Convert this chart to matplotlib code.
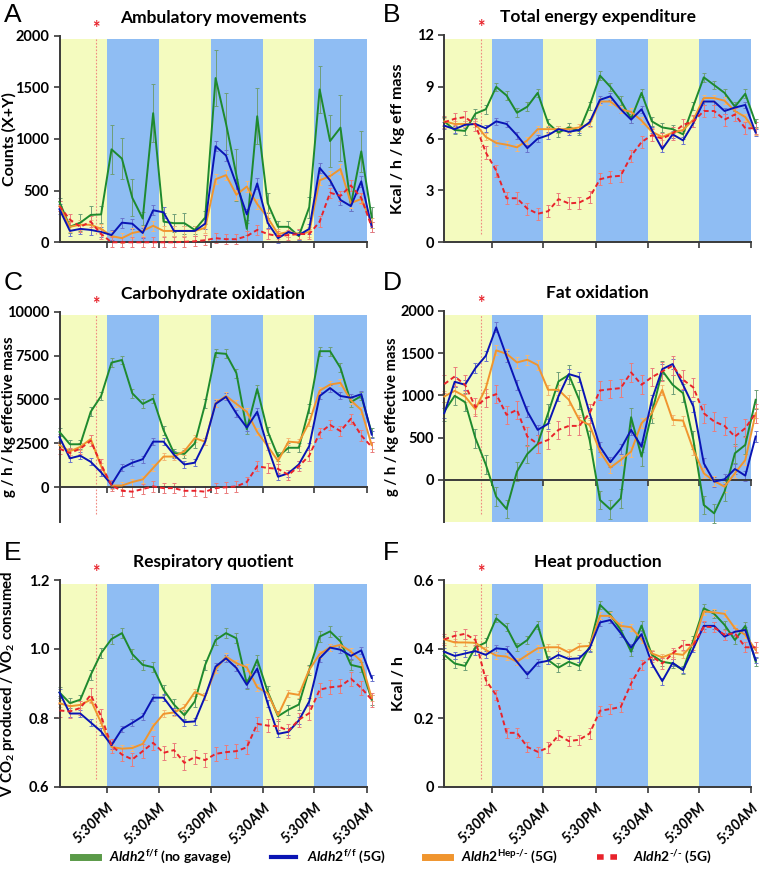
import numpy as np
import matplotlib
matplotlib.use("Agg")
import matplotlib.pyplot as plt
from matplotlib.lines import Line2D

plt.rcParams['font.family'] = ['Lato', 'DejaVu Sans']
plt.rcParams['font.weight'] = 'bold'
plt.rcParams['mathtext.fontset'] = 'custom'
plt.rcParams['mathtext.rm'] = 'Lato:bold'
plt.rcParams['mathtext.it'] = 'Lato:bold:italic'
plt.rcParams['mathtext.bf'] = 'Lato:bold'

# ---------------- data ----------------
time_idx = list(range(31))
tick_pos = [4.55, 9.52, 14.58, 19.6, 24.5, 29.55]
tick_labels = ['5:30PM', '5:30AM', '5:30PM', '5:30AM', '5:30PM', '5:30AM']
band_edges = [0, 4.55, 9.52, 14.58, 19.6, 24.5, 29.55]
gavage_time = 3.5

series_names = [r'$\mathit{Aldh2}^{\mathrm{f/f}}$ (no gavage)',
                r'$\mathit{Aldh2}^{\mathrm{f/f}}$ (5G)',
                r'$\mathit{Aldh2}^{\mathrm{Hep\text{-}/\text{-}}}$ (5G)',
                r'$\mathit{Aldh2}^{\text{-}/\text{-}}$ (5G)']

# A: ambulatory movements
amb_green = [390, 150, 190, 265, 270, 900, 810, 430, 230, 1250, 200, 185, 185, 120, 240,
             1590, 1150, 650, 130, 1220, 380, 150, 150, 60, 340, 1480, 980, 1110, 360, 880, 240]
amb_blue = [320, 110, 130, 120, 100, 70, 190, 180, 90, 310, 290, 110, 110, 110, 180,
            930, 840, 560, 270, 570, 190, 40, 100, 70, 130, 720, 600, 410, 350, 590, 150]
amb_orange = [350, 150, 170, 170, 130, 60, 40, 90, 110, 160, 110, 110, 110, 110, 140,
              610, 650, 460, 540, 370, 240, 80, 100, 80, 100, 600, 640, 710, 380, 420, 190]
amb_red = [350, 220, 150, 200, 80, 0, 0, 0, 0, 0, 0, 0, 5, 10, 20,
           40, 30, 30, 60, 120, 80, 60, 70, 80, 80, 200, 480, 450, 550, 430, 150]
amb_green_err = [40, 60, 80, 90, 80, 240, 200, 180, 60, 280, 80, 90, 100, 40, 60,
                 270, 300, 250, 60, 270, 100, 60, 60, 40, 100, 230, 250, 320, 60, 200, 100]

# B: total energy expenditure
tee_green = [7.0, 6.5, 6.45, 7.45, 7.7, 9.0, 8.5, 7.5, 7.85, 8.65, 6.9, 6.35, 6.65, 6.45, 7.9,
             9.65, 9.0, 8.2, 7.15, 8.65, 7.0, 6.65, 6.55, 6.25, 7.9, 9.55, 9.1, 8.65, 7.85, 8.6, 6.9]
tee_blue = [6.75, 6.55, 6.8, 6.85, 6.6, 7.0, 6.85, 6.2, 5.45, 6.0, 6.2, 6.55, 6.4, 6.5, 6.95,
            8.25, 8.45, 7.7, 7.1, 7.7, 6.5, 5.4, 6.25, 5.9, 6.9, 8.15, 8.15, 7.6, 7.8, 7.95, 6.35]
tee_orange = [7.0, 6.85, 6.85, 6.85, 6.1, 5.75, 5.65, 5.5, 5.9, 6.55, 6.55, 6.55, 6.55, 6.65, 6.85,
              8.15, 8.15, 7.7, 7.55, 7.05, 6.4, 6.1, 6.35, 6.5, 7.1, 8.35, 8.35, 8.2, 7.6, 7.25, 6.4]
tee_red = [6.95, 7.15, 7.25, 6.8, 5.2, 4.15, 2.55, 2.55, 1.95, 1.65, 1.8, 2.5, 2.25, 2.3, 2.6,
           3.65, 3.8, 3.85, 5.0, 5.8, 6.2, 6.0, 6.3, 6.8, 7.0, 7.6, 7.6, 7.1, 7.4, 6.6, 6.6]

# C: carbohydrate oxidation
cho_green = [3150, 2450, 2450, 4300, 5200, 7100, 7250, 5350, 4750, 5050, 3250, 1950, 1900, 2500, 4750,
             7650, 7600, 6500, 3300, 5600, 3200, 1750, 2250, 2250, 4500, 7750, 7750, 6800, 4850, 5200, 3100]
cho_blue = [2850, 1650, 1800, 1450, 850, 150, 1100, 1400, 1600, 2600, 2600, 1850, 1300, 1400, 2600,
            4750, 5150, 4200, 3400, 4300, 2300, 600, 800, 1300, 2350, 5200, 5650, 5200, 5100, 5300, 3000]
cho_orange = [2400, 2050, 2300, 2750, 1200, 100, 100, 300, 450, 1100, 1750, 1750, 2050, 2800, 2600,
              4800, 5200, 4750, 4300, 3150, 2350, 1500, 2600, 2550, 3700, 5500, 5850, 5950, 4950, 4400, 2400]
cho_red = [2200, 1950, 2200, 2650, 1300, 100, -200, -250, -100, 50, -50, -50, -200, -200, -250,
           -50, 0, 50, 300, 1200, 1100, 1050, 700, 1200, 1800, 3100, 3550, 3200, 3900, 2950, 2300]

# D: fat oxidation
fat_green = [810, 996, 921, 494, 182, -198, -344, 99, 308, 427, 790, 1166, 1245, 949, 474,
             -237, -348, -217, 743, 277, 790, 1293, 1127, 1028, 474, -296, -395, -138, 316, 415, 949]
fat_blue = [790, 1162, 1127, 1324, 1470, 1806, 1462, 1127, 810, 593, 664, 990, 1253, 1217, 790,
            395, 210, 368, 593, 395, 949, 1312, 1372, 1127, 870, 198, -20, 8, 130, 51, 514]
fat_orange = [988, 1055, 988, 838, 1087, 1534, 1494, 1391, 1423, 1360, 1067, 1067, 949, 711, 650,
              336, 146, 237, 336, 672, 790, 1067, 711, 703, 356, 79, -12, -80, 79, 237, 790]
fat_red = [1135, 1225, 1127, 862, 968, 1016, 771, 830, 514, 427, 474, 593, 640, 640, 790,
           1059, 1075, 1087, 1273, 1127, 1217, 1285, 1352, 1186, 1095, 790, 692, 640, 514, 613, 790]

# E: respiratory quotient
rq_green = [0.874, 0.843, 0.853, 0.925, 0.988, 1.029, 1.046, 0.985, 0.954, 0.947, 0.882, 0.839, 0.808, 0.848, 0.954,
            1.026, 1.046, 1.031, 0.899, 0.969, 0.877, 0.805, 0.824, 0.839, 0.940, 1.036, 1.051, 1.022, 0.954, 0.947, 0.853]
rq_blue = [0.874, 0.813, 0.813, 0.787, 0.761, 0.721, 0.768, 0.786, 0.805, 0.859, 0.859, 0.819, 0.788, 0.790, 0.863,
           0.949, 0.973, 0.945, 0.896, 0.943, 0.843, 0.754, 0.760, 0.793, 0.848, 0.973, 1.004, 0.998, 0.980, 0.996, 0.916]
rq_orange = [0.843, 0.834, 0.838, 0.853, 0.786, 0.716, 0.711, 0.713, 0.725, 0.776, 0.812, 0.816, 0.831, 0.875, 0.863,
             0.940, 0.978, 0.959, 0.947, 0.889, 0.872, 0.808, 0.872, 0.867, 0.940, 0.985, 1.005, 1.012, 0.993, 0.964, 0.858]
rq_red = [0.822, 0.819, 0.829, 0.867, 0.805, 0.720, 0.694, 0.680, 0.704, 0.728, 0.699, 0.707, 0.670, 0.687, 0.678,
          0.696, 0.701, 0.704, 0.715, 0.783, 0.778, 0.776, 0.763, 0.795, 0.814, 0.882, 0.889, 0.892, 0.914, 0.887, 0.853]

# F: heat production
heat_green = [0.383, 0.358, 0.351, 0.405, 0.419, 0.489, 0.463, 0.405, 0.426, 0.470, 0.368, 0.346, 0.363, 0.351, 0.407,
              0.528, 0.499, 0.455, 0.392, 0.468, 0.383, 0.363, 0.358, 0.339, 0.426, 0.518, 0.502, 0.470, 0.426, 0.467, 0.363]
heat_blue = [0.392, 0.380, 0.387, 0.394, 0.383, 0.402, 0.399, 0.363, 0.326, 0.360, 0.366, 0.383, 0.371, 0.373, 0.402,
             0.477, 0.484, 0.446, 0.404, 0.443, 0.358, 0.307, 0.360, 0.339, 0.402, 0.467, 0.467, 0.436, 0.450, 0.455, 0.368]
heat_orange = [0.428, 0.419, 0.419, 0.418, 0.397, 0.381, 0.378, 0.363, 0.383, 0.402, 0.405, 0.405, 0.390, 0.407, 0.409,
               0.496, 0.496, 0.467, 0.463, 0.428, 0.387, 0.376, 0.387, 0.383, 0.416, 0.509, 0.506, 0.502, 0.460, 0.441, 0.397]
heat_red = [0.428, 0.438, 0.444, 0.426, 0.310, 0.266, 0.157, 0.157, 0.116, 0.102, 0.114, 0.150, 0.133, 0.137, 0.155,
            0.221, 0.226, 0.232, 0.300, 0.353, 0.378, 0.358, 0.387, 0.412, 0.412, 0.465, 0.463, 0.441, 0.446, 0.405, 0.405]

# typical SEM per series (green, blue, orange, red)
sem_A = [amb_green_err, 50, 50, 50]
sem_B = [0.25, 0.2, 0.2, 0.35]
sem_C = [250, 200, 200, 300]
sem_D = [110, 60, 60, 110]
sem_E = [0.015, 0.01, 0.01, 0.02]
sem_F = [0.012, 0.01, 0.01, 0.015]

# ---------------- style ----------------
line_colors = ['#1e8a2e', '#0a14b4', '#f0952e', '#e8232b']
err_colors = ['#6f9f78', '#6a74cc', '#f2b877', '#ea7c7c']
band_colors = ['#f4fbbf', '#8fbdf3']
spine_col = '#3a3a3a'

W, H = 762, 875
fig = plt.figure(figsize=(W / 100, H / 100), dpi=100)

def rect(l, r, t, b):
    return [l / W, 1 - b / H, (r - l) / W, (b - t) / H]

panels = [
    dict(letter='A', title='Ambulatory movements', ylabel='Counts (X+Y)',
         ylim=(0, 2000), yticks=[0, 500, 1000, 1500, 2000], shade_bottom=0, zero_spine=False,
         data=[amb_green, amb_blue, amb_orange, amb_red], sem=sem_A,
         px=(59.5, 367, 35.7, 242.3), xlabels=False, letter_xy=(4, 3), ylab_x=17, ylab_fs=11.5),
    dict(letter='B', title='Total energy expenditure', ylabel='Kcal / h / kg eff mass',
         ylim=(0, 12), yticks=[0, 3, 6, 9, 12], shade_bottom=0, zero_spine=False,
         data=[tee_green, tee_blue, tee_orange, tee_red], sem=sem_B,
         px=(444.3, 751, 35, 242.3), xlabels=False, letter_xy=(383, 3), ylab_x=405, ylab_fs=11.5),
    dict(letter='C', title='Carbohydrate oxidation', ylabel='g / h / kg effective mass',
         ylim=(-2000, 10000), yticks=[0, 2500, 5000, 7500, 10000], shade_bottom=0, zero_spine=True,
         data=[cho_green, cho_blue, cho_orange, cho_red], sem=sem_C,
         px=(59.5, 367, 311.7, 522.4), xlabels=False, letter_xy=(4, 271), ylab_x=16, ylab_fs=10.8),
    dict(letter='D', title='Fat oxidation', ylabel='g / h / kg effective mass',
         ylim=(-500, 2000), yticks=[0, 500, 1000, 1500, 2000], shade_bottom=-500, zero_spine=True,
         data=[fat_green, fat_blue, fat_orange, fat_red], sem=sem_D,
         px=(444.3, 751, 311, 522.2), xlabels=False, letter_xy=(383, 271), ylab_x=399, ylab_fs=10.6),
    dict(letter='E', title='Respiratory quotient', ylabel=r'V CO$_2$ produced / VO$_2$ consumed',
         ylim=(0.6, 1.2), yticks=[0.6, 0.8, 1.0, 1.2], shade_bottom=0.6, zero_spine=False,
         data=[rq_green, rq_blue, rq_orange, rq_red], sem=sem_E,
         px=(59.5, 367, 580, 787), xlabels=True, fmt='{:.1f}', letter_xy=(4, 541), ylab_x=17,
         ylab_fs=10.8),
    dict(letter='F', title='Heat production', ylabel='Kcal / h',
         ylim=(0, 0.6), yticks=[0, 0.2, 0.4, 0.6], shade_bottom=0, zero_spine=False,
         data=[heat_green, heat_blue, heat_orange, heat_red], sem=sem_F,
         px=(444.3, 751, 580, 787), xlabels=True, fmt='{:g}', letter_xy=(383, 541), ylab_x=406,
         ylab_fs=11.5),
]

for p in panels:
    l, r, t, b = p['px']
    ax = fig.add_axes(rect(l, r, t, b))
    y0, y1 = p['ylim']
    ax.set_xlim(0, tick_pos[-1])
    ax.set_ylim(y0, y1)
    shade_top = y1 - 0.017 * (y1 - y0)
    for k in range(len(band_edges) - 1):
        ax.fill_between([band_edges[k], band_edges[k + 1]], p['shade_bottom'], shade_top,
                        color=band_colors[k % 2], lw=0, zorder=0)
    # gavage marker
    ax.plot([gavage_time, gavage_time], [y0 + 0.04 * (y1 - y0), shade_top], color='#f08a80',
            lw=0.8, ls=(0, (1.5, 1.5)), zorder=1)
    ax.text(gavage_time, 1.035, '*', transform=ax.get_xaxis_transform(), color='#e8232b',
            ha='center', va='center', fontsize=13, fontweight='bold')
    for s in range(4):
        vals = p['data'][s]
        ax.errorbar(time_idx, vals, yerr=p['sem'][s], fmt='none', ecolor=err_colors[s],
                    elinewidth=0.7, capsize=1.5, capthick=0.7, zorder=2, clip_on=False)
    order = [0, 2, 1, 3]
    for s in order:
        vals = p['data'][s]
        if s == 3:
            ax.plot(time_idx, vals, color=line_colors[s], lw=1.4, ls=(0, (2.5, 1.6)), zorder=4,
                    clip_on=False)
        else:
            ax.plot(time_idx, vals, color=line_colors[s], lw=1.4, zorder=3, clip_on=False)
    for sp in ['top', 'right']:
        ax.spines[sp].set_visible(False)
    for sp in ['left', 'bottom']:
        ax.spines[sp].set_color(spine_col)
        ax.spines[sp].set_linewidth(1.4)
    if p['zero_spine']:
        ax.spines['bottom'].set_position(('data', 0))
    ax.set_yticks(p['yticks'])
    fmt = p.get('fmt', '{:g}')
    ax.set_yticklabels([fmt.format(v) for v in p['yticks']], fontsize=10.5, fontweight='bold')
    ax.set_xticks(tick_pos)
    ax.tick_params(axis='both', colors=spine_col, length=4, width=1.2, labelcolor='black', pad=3.5)
    if p['xlabels']:
        ax.set_xticklabels(tick_labels, rotation=45, ha='right', va='top',
                           rotation_mode='anchor', fontsize=10.5, fontweight='bold', style='italic')
        ax.tick_params(axis='x', pad=6)
    else:
        ax.set_xticklabels([])
    ax.set_title(p['title'], fontsize=12.5, fontweight='bold', pad=9)
    ax.set_ylabel(p['ylabel'], fontsize=p['ylab_fs'], fontweight='bold')
    ax.yaxis.set_label_coords((p['ylab_x'] - l) / (r - l), 0.5)
    lx, ly = p['letter_xy']
    fig.text(lx / W, 1 - ly / H, p['letter'], fontsize=19,
             fontweight='normal', family='Liberation Sans', ha='left', va='top')

handles = [Line2D([], [], color='#5a9a48', lw=5),
           Line2D([], [], color=line_colors[1], lw=3),
           Line2D([], [], color=line_colors[2], lw=5),
           Line2D([], [], color=line_colors[3], lw=4, ls=(0, (1.2, 1.2)))]
fig.legend(handles, series_names, loc='center', bbox_to_anchor=(0.515, 0.02), ncol=4,
           frameon=False, fontsize=10, handlelength=1.8, columnspacing=2.8, handletextpad=0.8)

fig.savefig('out.png', dpi=100)
